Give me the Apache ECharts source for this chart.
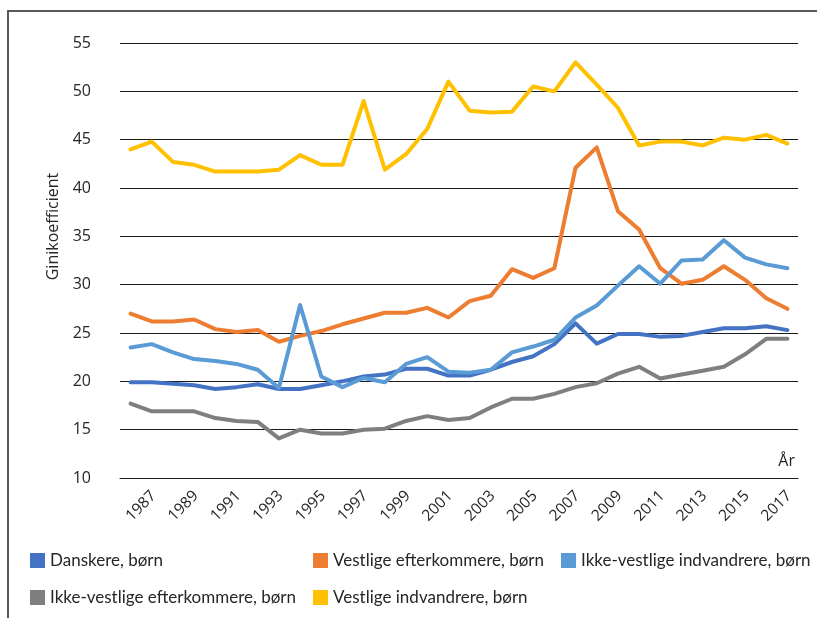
<!DOCTYPE html>
<html>
<head>
<meta charset="utf-8">
<script src="https://cdn.jsdelivr.net/npm/echarts@6/dist/echarts.min.js"></script>
<style>
html,body{margin:0;padding:0;background:#fff;}
#chart{width:817px;height:618px;}
</style>
</head>
<body>
<div id="chart"></div>
<script>
const years = ['1987','1988','1989','1990','1991','1992','1993','1994','1995','1996','1997','1998','1999','2000','2001','2002','2003','2004','2005','2006','2007','2008','2009','2010','2011','2012','2013','2014','2015','2016','2017','2018'];
const yTicks = [10, 55, 5]; // min, max, interval

const danskere = [19.9,19.9,19.75,19.6,19.2,19.4,19.7,19.2,19.2,19.6,20.0,20.5,20.7,21.3,21.3,20.6,20.6,21.2,22.0,22.6,23.85,26.0,23.9,24.9,24.9,24.6,24.7,25.1,25.5,25.5,25.7,25.3];
const vestligeEfterkommere = [27.0,26.2,26.2,26.4,25.4,25.1,25.3,24.1,24.7,25.2,25.9,26.5,27.1,27.1,27.6,26.6,28.3,28.85,31.6,30.7,31.7,42.1,44.2,37.6,35.7,31.7,30.1,30.5,31.9,30.5,28.6,27.5];
const ikkeVestligeIndvandrere = [23.5,23.85,23.0,22.3,22.1,21.8,21.2,19.3,27.9,20.5,19.4,20.35,19.9,21.8,22.5,21.0,20.9,21.2,23.0,23.6,24.3,26.6,27.85,29.9,31.9,30.1,32.5,32.6,34.6,32.8,32.1,31.7];
const ikkeVestligeEfterkommere = [17.7,16.9,16.9,16.9,16.2,15.9,15.8,14.1,15.0,14.6,14.6,15.0,15.1,15.9,16.4,16.0,16.2,17.3,18.2,18.2,18.7,19.4,19.8,20.8,21.5,20.3,20.7,21.1,21.5,22.8,24.4,24.4];
const vestligeIndvandrere = [44.0,44.8,42.7,42.4,41.7,41.7,41.7,41.9,43.4,42.4,42.4,49.0,41.9,43.5,46.1,51.0,48.0,47.8,47.9,50.5,50.0,53.0,50.7,48.3,44.4,44.8,44.8,44.4,45.2,45.0,45.5,44.6];

const seriesNames = ['Danskere, børn','Vestlige efterkommere, børn','Ikke-vestlige indvandrere, børn','Ikke-vestlige efterkommere, børn','Vestlige indvandrere, børn'];
const seriesData = [danskere, vestligeEfterkommere, ikkeVestligeIndvandrere, ikkeVestligeEfterkommere, vestligeIndvandrere];
const colors = ['#4472C4','#ED7D31','#5B9BD5','#7F7F7F','#FFC000'];

const legendPos = [[30,552],[313,552],[561,552],[30,589],[313,589]];
const legendFont = {fontFamily:'Lato', fontSize:17, color:'#262626'};

const chart = echarts.init(document.getElementById('chart'), null, {renderer:'canvas'});
const option = {
  animation:false,
  backgroundColor:'#fff',
  color: colors,
  graphic:[{
    type:'rect', shape:{x:8,y:11,width:900,height:700},
    style:{fill:'none', stroke:'#595959', lineWidth:2}, silent:true
  }],
  grid:[
    {left:120, right:19, top:43, bottom:140, containLabel:false},
    {left:130.5, right:8.5, top:43, bottom:140, containLabel:false}
  ],
  legend: seriesNames.map((n,i)=>({
    data:[n], left:legendPos[i][0], top:legendPos[i][1], padding:0,
    icon:'rect', itemWidth:15, itemHeight:15, itemGap:5,
    textStyle:legendFont, selectedMode:false
  })),
  xAxis:[{
    type:'category', data:years, boundaryGap:true, gridIndex:0,
    name:'År', nameLocation:'end', nameGap:-3,
    nameTextStyle:{fontFamily:'Open Sans', fontSize:16, color:'#262626', align:'right', verticalAlign:'bottom', padding:[0,0,9,0]},
    axisLine:{show:true, lineStyle:{color:'#1a1a1a', width:1}},
    axisTick:{show:false},
    axisLabel:{show:false}
  },{
    type:'category', data:years, boundaryGap:true, gridIndex:1,
    axisLine:{show:false}, axisTick:{show:false}, splitLine:{show:false},
    axisLabel:{interval:1, rotate:45, align:'center', verticalAlign:'middle', margin:28,
      fontFamily:'Open Sans', fontSize:15.5, color:'#262626'}
  }],
  yAxis:[{
    type:'value', min:yTicks[0], max:yTicks[1], interval:yTicks[2], gridIndex:0,
    name:'Ginikoefficient', nameLocation:'middle', nameGap:58,
    nameTextStyle:{fontFamily:'Open Sans', fontSize:16, color:'#262626', padding:[0,0,0,68]},
    axisLine:{show:false}, axisTick:{show:false},
    axisLabel:{margin:29, fontFamily:'Open Sans', fontSize:16, color:'#262626'},
    splitLine:{lineStyle:{color:'#1a1a1a', width:1}}
  },{
    type:'value', min:yTicks[0], max:yTicks[1], gridIndex:1, show:false
  }],
  series: seriesNames.map((n,i)=>({
    name:n, type:'line', data:seriesData[i], symbol:'none', smooth:false,
    xAxisIndex:0, yAxisIndex:0,
    lineStyle:{width:4, color:colors[i], cap:'round', join:'round'},
    itemStyle:{color:colors[i]}
  }))
};
chart.setOption(option);
</script>
</body>
</html>
